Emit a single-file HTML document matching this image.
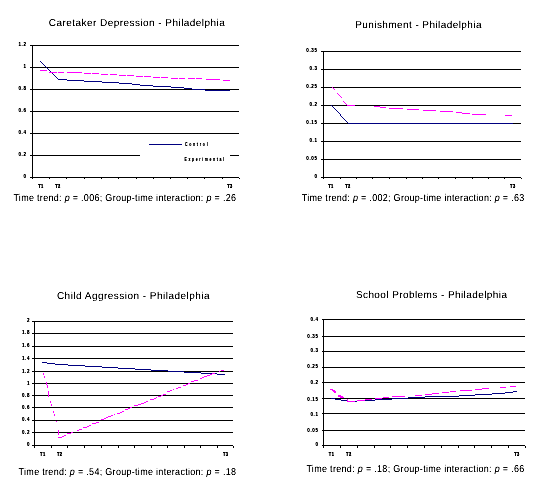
<!DOCTYPE html>
<html><head><meta charset="utf-8"><style>
html,body{margin:0;padding:0;background:#fff;width:546px;height:487px;overflow:hidden}
svg{display:block}
text{font-family:"Liberation Sans",sans-serif;fill:#000}
.tt{font-size:10px;text-rendering:geometricPrecision}
.cp{font-size:10px;text-rendering:geometricPrecision}
.yl{font-size:6px;font-weight:bold;text-anchor:end;stroke:#000;stroke-width:0;letter-spacing:0.8px}
.tl{font-size:5px;font-weight:bold;text-anchor:middle;stroke:#000;stroke-width:0.1;letter-spacing:0.6px}
.lg{font-size:5px;font-weight:bold}
</style></head><body>
<svg width="546" height="487" viewBox="0 0 546 487">
<defs><filter id="crisp" x="-5%" y="-20%" width="110%" height="140%"><feComponentTransfer><feFuncA type="linear" slope="2" intercept="-0.3"/></feComponentTransfer></filter><filter id="crisp3" x="-5%" y="-20%" width="110%" height="140%"><feComponentTransfer><feFuncA type="linear" slope="1.5" intercept="-0.15"/></feComponentTransfer></filter><filter id="crisp2" x="-5%" y="-20%" width="110%" height="140%"><feComponentTransfer><feFuncA type="linear" slope="1.5" intercept="0"/></feComponentTransfer></filter></defs>
<rect width="546" height="487" fill="#fff"/>
<g stroke="#000" stroke-width="1" shape-rendering="crispEdges"><line x1="30" y1="45.5" x2="239" y2="45.5"/><line x1="30" y1="67.5" x2="239" y2="67.5"/><line x1="30" y1="89.5" x2="239" y2="89.5"/><line x1="30" y1="111.5" x2="239" y2="111.5"/><line x1="30" y1="133.5" x2="239" y2="133.5"/><line x1="30" y1="155.5" x2="239" y2="155.5"/><line x1="30" y1="177.5" x2="239" y2="177.5"/><line x1="32.5" y1="45" x2="32.5" y2="178"/><line x1="32.5" y1="178" x2="32.5" y2="179"/><line x1="49.5" y1="178" x2="49.5" y2="179"/><line x1="66.5" y1="178" x2="66.5" y2="179"/><line x1="84.5" y1="178" x2="84.5" y2="179"/><line x1="101.5" y1="178" x2="101.5" y2="179"/><line x1="118.5" y1="178" x2="118.5" y2="179"/><line x1="136.5" y1="178" x2="136.5" y2="179"/><line x1="153.5" y1="178" x2="153.5" y2="179"/><line x1="170.5" y1="178" x2="170.5" y2="179"/><line x1="187.5" y1="178" x2="187.5" y2="179"/><line x1="204.5" y1="178" x2="204.5" y2="179"/><line x1="222.5" y1="178" x2="222.5" y2="179"/><line x1="239.5" y1="178" x2="239.5" y2="179"/></g>
<rect x="140" y="137" width="90" height="27" fill="#fff"/>
<line x1="149" y1="144.5" x2="182" y2="144.5" stroke="#000080" stroke-width="1"/>
<g filter="url(#crisp2)"><text transform="scale(0.7,1)" x="264.29" y="146" class="lg" textLength="32.29" lengthAdjust="spacing">Control</text>
<text transform="scale(0.7,1)" x="263.57" y="160.8" class="lg" textLength="56.43" lengthAdjust="spacing">Experimental</text></g>
<g filter="url(#crisp2)">
<text transform="scale(0.75,1)" x="35.33" y="45.6" class="yl">1.2</text>
<text transform="scale(0.75,1)" x="35.33" y="67.6" class="yl">1</text>
<text transform="scale(0.75,1)" x="35.33" y="89.6" class="yl">0.8</text>
<text transform="scale(0.75,1)" x="35.33" y="111.6" class="yl">0.6</text>
<text transform="scale(0.75,1)" x="35.33" y="133.6" class="yl">0.4</text>
<text transform="scale(0.75,1)" x="35.33" y="155.6" class="yl">0.2</text>
<text transform="scale(0.75,1)" x="35.33" y="177.6" class="yl">0</text>
</g>
<g filter="url(#crisp2)"><text transform="scale(0.8,1)" x="51.25" y="188" class="tl">T1</text></g>
<g filter="url(#crisp2)"><text transform="scale(0.8,1)" x="72.5" y="188" class="tl">T2</text></g>
<g filter="url(#crisp2)"><text transform="scale(0.8,1)" x="287.5" y="188" class="tl">T3</text></g>
<path d="M40 61h1v1h-1zM41 62h1v1h-1zM42 63h1v1h-1zM43 64h1v1h-1zM44 65h1v1h-1zM45 66h1v1h-1zM46 67h1v1h-1zM47 68h1v1h-1zM48 69h1v1h-1zM49 70h1v1h-1zM50 71h1v1h-1zM51 72h1v1h-1zM52 73h1v1h-1zM53 74h1v1h-1zM54 75h1v1h-1zM55 76h1v1h-1zM56 77h1v1h-1zM57 78h1v1h-1zM58 79h9v1H58zM67 80h17v1H67zM84 81h18v1H84zM102 82h17v1H102zM119 83h13v1H119zM132 84h8v1H132zM140 85h13v1H140zM153 86h18v1H153zM171 87h13v1H171zM184 88h8v1H184zM192 89h13v1H192zM205 90h25v1H205z" fill="#000080"/>
<path d="M40 70h7v1H40zM49 72h8v1H49zM58 72h6v1H58zM67 72h8v1H67zM75 72h7v1H75zM84 73h7v1H84zM92 73h7v1H92zM101 74h7v1H101zM110 74h7v1H110zM119 75h7v1H119zM127 75h7v1H127zM136 76h7v1H136zM144 76h7v1H144zM153 77h7v1H153zM161 77h7v1H161zM171 78h7v1H171zM179 78h6v1H179zM188 78h7v1H188zM196 78h6v1H196zM206 79h7v1H206zM213 79h7v1H213zM223 80h7v1H223z" fill="#ff00ff"/>
<g filter="url(#crisp3)"><text transform="scale(1.0,1)" x="48.8" y="26.1" class="tt" textLength="176" lengthAdjust="spacing">Caretaker Depression - Philadelphia</text></g>
<g filter="url(#crisp3)"><text transform="scale(0.9,1)" x="14.89" y="201" class="cp" textLength="247.33" lengthAdjust="spacing">Time trend: <tspan font-style="italic">p</tspan> = .006; Group-time interaction: <tspan font-style="italic">p</tspan> = .26</text></g>
<g stroke="#000" stroke-width="1" shape-rendering="crispEdges"><line x1="321" y1="51.5" x2="521" y2="51.5"/><line x1="321" y1="69.5" x2="521" y2="69.5"/><line x1="321" y1="87.5" x2="521" y2="87.5"/><line x1="321" y1="105.5" x2="521" y2="105.5"/><line x1="321" y1="123.5" x2="521" y2="123.5"/><line x1="321" y1="141.5" x2="521" y2="141.5"/><line x1="321" y1="159.5" x2="521" y2="159.5"/><line x1="321" y1="177.5" x2="521" y2="177.5"/><line x1="323.5" y1="51" x2="323.5" y2="178"/><line x1="323.5" y1="178" x2="323.5" y2="179"/><line x1="340.5" y1="178" x2="340.5" y2="179"/><line x1="356.5" y1="178" x2="356.5" y2="179"/><line x1="372.5" y1="178" x2="372.5" y2="179"/><line x1="389.5" y1="178" x2="389.5" y2="179"/><line x1="406.5" y1="178" x2="406.5" y2="179"/><line x1="422.5" y1="178" x2="422.5" y2="179"/><line x1="438.5" y1="178" x2="438.5" y2="179"/><line x1="455.5" y1="178" x2="455.5" y2="179"/><line x1="472.5" y1="178" x2="472.5" y2="179"/><line x1="488.5" y1="178" x2="488.5" y2="179"/><line x1="504.5" y1="178" x2="504.5" y2="179"/><line x1="521.5" y1="178" x2="521.5" y2="179"/></g>
<g filter="url(#crisp2)">
<text transform="scale(0.75,1)" x="423.33" y="51.6" class="yl">0.35</text>
<text transform="scale(0.75,1)" x="423.33" y="69.6" class="yl">0.3</text>
<text transform="scale(0.75,1)" x="423.33" y="87.6" class="yl">0.25</text>
<text transform="scale(0.75,1)" x="423.33" y="105.6" class="yl">0.2</text>
<text transform="scale(0.75,1)" x="423.33" y="123.6" class="yl">0.15</text>
<text transform="scale(0.75,1)" x="423.33" y="141.6" class="yl">0.1</text>
<text transform="scale(0.75,1)" x="423.33" y="159.6" class="yl">0.05</text>
<text transform="scale(0.75,1)" x="423.33" y="177.6" class="yl">0</text>
</g>
<g filter="url(#crisp2)"><text transform="scale(0.8,1)" x="413.75" y="188" class="tl">T1</text></g>
<g filter="url(#crisp2)"><text transform="scale(0.8,1)" x="435" y="188" class="tl">T2</text></g>
<g filter="url(#crisp2)"><text transform="scale(0.8,1)" x="641" y="188" class="tl">T3</text></g>
<path d="M331 105h1v1h-1zM332 106h1v1h-1zM333 107h1v1h-1zM334 108h1v1h-1zM335 109h1v1h-1zM336 110h1v1h-1zM337 111h1v1h-1zM338 112h1v1h-1zM339 113h1v1h-1zM340 114h1v1h-1zM340 115h1v1h-1zM341 116h1v1h-1zM342 117h1v1h-1zM343 118h1v1h-1zM344 119h1v1h-1zM345 120h1v1h-1zM346 121h1v1h-1zM347 122h1v1h-1zM348 123h1v1h-1zM348 123h165v1H348z" fill="#000080"/>
<path d="M332 87h1v1h-1zM333 88h1v1h-1zM334 89h1v1h-1zM337 93h1v1h-1zM338 94h1v1h-1zM339 95h1v1h-1zM340 96h1v1h-1zM341 97h1v1h-1zM343 101h1v1h-1zM344 102h1v1h-1zM345 103h1v1h-1zM346 104h1v1h-1zM347 105h1v1h-1zM347 105h8v1H347zM374 106h6v1H374zM380 107h6v1H380zM389 108h8v1H389zM397 108h6v1H397zM407 109h12v1H407zM423 110h7v1H423zM430 110h6v1H430zM440 111h13v1H440zM456 112h6v1H456zM462 113h8v1H462zM472 114h14v1H472zM505 115h7v1H505z" fill="#ff00ff"/>
<g filter="url(#crisp3)"><text transform="scale(1.0,1)" x="355.2" y="28" class="tt" textLength="126.3" lengthAdjust="spacing">Punishment - Philadelphia</text></g>
<g filter="url(#crisp3)"><text transform="scale(0.9,1)" x="335.22" y="201" class="cp" textLength="247.33" lengthAdjust="spacing">Time trend: <tspan font-style="italic">p</tspan> = .002; Group-time interaction: <tspan font-style="italic">p</tspan> = .63</text></g>
<g stroke="#000" stroke-width="1" shape-rendering="crispEdges"><line x1="32" y1="321.5" x2="233" y2="321.5"/><line x1="32" y1="333.5" x2="233" y2="333.5"/><line x1="32" y1="346.5" x2="233" y2="346.5"/><line x1="32" y1="358.5" x2="233" y2="358.5"/><line x1="32" y1="371.5" x2="233" y2="371.5"/><line x1="32" y1="383.5" x2="233" y2="383.5"/><line x1="32" y1="395.5" x2="233" y2="395.5"/><line x1="32" y1="407.5" x2="233" y2="407.5"/><line x1="32" y1="420.5" x2="233" y2="420.5"/><line x1="32" y1="432.5" x2="233" y2="432.5"/><line x1="32" y1="445.5" x2="233" y2="445.5"/><line x1="34.5" y1="321" x2="34.5" y2="446"/><line x1="34.5" y1="446" x2="34.5" y2="448"/><line x1="51.5" y1="446" x2="51.5" y2="448"/><line x1="67.5" y1="446" x2="67.5" y2="448"/><line x1="84.5" y1="446" x2="84.5" y2="448"/><line x1="101.5" y1="446" x2="101.5" y2="448"/><line x1="118.5" y1="446" x2="118.5" y2="448"/><line x1="134.5" y1="446" x2="134.5" y2="448"/><line x1="151.5" y1="446" x2="151.5" y2="448"/><line x1="167.5" y1="446" x2="167.5" y2="448"/><line x1="184.5" y1="446" x2="184.5" y2="448"/><line x1="200.5" y1="446" x2="200.5" y2="448"/><line x1="217.5" y1="446" x2="217.5" y2="448"/><line x1="233.5" y1="446" x2="233.5" y2="448"/></g>
<g filter="url(#crisp2)">
<text transform="scale(0.75,1)" x="40" y="321.6" class="yl">2</text>
<text transform="scale(0.75,1)" x="40" y="333.6" class="yl">1.8</text>
<text transform="scale(0.75,1)" x="40" y="346.6" class="yl">1.6</text>
<text transform="scale(0.75,1)" x="40" y="359.6" class="yl">1.4</text>
<text transform="scale(0.75,1)" x="40" y="372.6" class="yl">1.2</text>
<text transform="scale(0.75,1)" x="40" y="384.6" class="yl">1</text>
<text transform="scale(0.75,1)" x="40" y="396.6" class="yl">0.8</text>
<text transform="scale(0.75,1)" x="40" y="408.6" class="yl">0.6</text>
<text transform="scale(0.75,1)" x="40" y="420.6" class="yl">0.4</text>
<text transform="scale(0.75,1)" x="40" y="433.6" class="yl">0.2</text>
<text transform="scale(0.75,1)" x="40" y="445.6" class="yl">0</text>
</g>
<g filter="url(#crisp2)"><text transform="scale(0.8,1)" x="53.5" y="456" class="tl">T1</text></g>
<g filter="url(#crisp2)"><text transform="scale(0.8,1)" x="74.62" y="456" class="tl">T2</text></g>
<g filter="url(#crisp2)"><text transform="scale(0.8,1)" x="282.12" y="456" class="tl">T3</text></g>
<path d="M42 362h5v1H42zM47 363h8v1H47zM55 364h13v1H55zM68 365h17v1H68zM85 366h17v1H85zM102 367h16v1H102zM118 368h17v1H118zM135 369h16v1H135zM151 370h17v1H151zM168 371h16v1H168zM184 372h17v1H184zM201 373h16v1H201zM217 374h8v1H217z" fill="#000080"/>
<path d="M43 373h1v2h-1zM44 376h1v2h-1zM46 382h1v3h-1zM47 385h1v3h-1zM48 391h1v6h-1zM50 401h1v2h-1zM51 404h1v2h-1zM53 411h1v2h-1zM54 414h1v2h-1zM56 421h1v1h-1zM58 430h1v5h-1zM58 437h4v1H58zM62 436h2v1H62zM64 435h2v1H64zM67 433h4v1H67zM71 432h2v1H71zM77 430h2v1H77zM79 429h3v1H79zM83 427h4v1H83zM87 426h2v1H87zM89 425h2v1H89zM92 423h4v1H92zM96 422h3v1H96zM101 419h3v1H101zM104 418h2v1H104zM106 417h2v1H106zM108 416h3v1H108zM111 415h2v1H111zM114 414h1v1H114zM117 413h3v1H117zM120 412h2v1H120zM122 411h2v1H122zM125 409h3v1H125zM128 408h2v1H128zM130 407h2v1H130zM134 405h4v1H134zM138 404h3v1H138zM141 403h3v1H141zM144 402h2v1H144zM146 401h2v1H146zM150 399h4v1H150zM154 398h2v1H154zM156 397h1v1H156zM158 396h3v1H158zM161 395h2v1H161zM163 394h3v1H163zM167 391h3v1H167zM170 390h2v1H170zM173 389h1v1H173zM176 388h2v1H176zM178 387h3v1H178zM183 385h3v1H183zM186 384h2v1H186zM188 383h2v1H188zM191 381h3v1H191zM194 380h4v1H194zM200 378h2v1H200zM202 377h2v1H202zM204 376h3v1H204zM207 375h3v1H207zM210 374h2v1H210zM212 373h3v1H212zM219 371h1v1H219zM221 370h3v1H221z" fill="#ff00ff"/>
<g filter="url(#crisp3)"><text transform="scale(1.0,1)" x="56.9" y="299.1" class="tt" textLength="152.6" lengthAdjust="spacing">Child Aggression - Philadelphia</text></g>
<g filter="url(#crisp3)"><text transform="scale(0.9,1)" x="20.67" y="475.2" class="cp" textLength="241.56" lengthAdjust="spacing">Time trend: <tspan font-style="italic">p</tspan> = .54; Group-time interaction: <tspan font-style="italic">p</tspan> = .18</text></g>
<g stroke="#000" stroke-width="1" shape-rendering="crispEdges"><line x1="322" y1="319.5" x2="525" y2="319.5"/><line x1="322" y1="336.5" x2="525" y2="336.5"/><line x1="322" y1="351.5" x2="525" y2="351.5"/><line x1="322" y1="367.5" x2="525" y2="367.5"/><line x1="322" y1="382.5" x2="525" y2="382.5"/><line x1="322" y1="398.5" x2="525" y2="398.5"/><line x1="322" y1="413.5" x2="525" y2="413.5"/><line x1="322" y1="430.5" x2="525" y2="430.5"/><line x1="322" y1="445.5" x2="525" y2="445.5"/><line x1="323.5" y1="319" x2="323.5" y2="446"/><line x1="323.5" y1="446" x2="323.5" y2="448"/><line x1="340.5" y1="446" x2="340.5" y2="448"/><line x1="357.5" y1="446" x2="357.5" y2="448"/><line x1="374.5" y1="446" x2="374.5" y2="448"/><line x1="390.5" y1="446" x2="390.5" y2="448"/><line x1="407.5" y1="446" x2="407.5" y2="448"/><line x1="424.5" y1="446" x2="424.5" y2="448"/><line x1="441.5" y1="446" x2="441.5" y2="448"/><line x1="458.5" y1="446" x2="458.5" y2="448"/><line x1="474.5" y1="446" x2="474.5" y2="448"/><line x1="491.5" y1="446" x2="491.5" y2="448"/><line x1="508.5" y1="446" x2="508.5" y2="448"/><line x1="525.5" y1="446" x2="525.5" y2="448"/></g>
<g filter="url(#crisp2)">
<text transform="scale(0.75,1)" x="424.67" y="320.6" class="yl">0.4</text>
<text transform="scale(0.75,1)" x="424.67" y="337.6" class="yl">0.35</text>
<text transform="scale(0.75,1)" x="424.67" y="351.6" class="yl">0.3</text>
<text transform="scale(0.75,1)" x="424.67" y="367.6" class="yl">0.25</text>
<text transform="scale(0.75,1)" x="424.67" y="383.6" class="yl">0.2</text>
<text transform="scale(0.75,1)" x="424.67" y="400.6" class="yl">0.15</text>
<text transform="scale(0.75,1)" x="424.67" y="415.6" class="yl">0.1</text>
<text transform="scale(0.75,1)" x="424.67" y="431.6" class="yl">0.05</text>
<text transform="scale(0.75,1)" x="424.67" y="445.6" class="yl">0</text>
</g>
<g filter="url(#crisp2)"><text transform="scale(0.8,1)" x="414.5" y="456" class="tl">T1</text></g>
<g filter="url(#crisp2)"><text transform="scale(0.8,1)" x="436" y="456" class="tl">T2</text></g>
<g filter="url(#crisp2)"><text transform="scale(0.8,1)" x="646.25" y="456" class="tl">T3</text></g>
<path d="M331 398h4v1H331zM335 399h6v1H335zM341 400h6v1H341zM347 401h10v1H347zM357 400h18v1H357zM375 399h17v1H375zM392 398h16v1H392zM408 397h17v1H408zM425 396h34v1H425zM459 395h16v1H459zM475 394h17v1H475zM492 393h13v1H492zM505 392h8v1H505zM513 391h4v1H513z" fill="#000080"/>
<path d="M330 389h3v1H330zM332 390h3v1H332zM333 391h3v1H333zM334 392h2v1H334zM338 395h3v1H338zM338 396h5v1H338zM340 397h4v1H340zM347 399h1v3h-1zM348 401h7v1H348zM357 400h8v1H357zM365 399h7v1H365zM375 398h7v1H375zM383 397h6v1H383zM392 396h13v1H392zM415 395h7v1H415zM425 394h7v1H425zM432 393h7v1H432zM442 392h7v1H442zM450 391h6v1H450zM460 390h12v1H460zM475 389h7v1H475zM482 388h7v1H482zM500 387h6v1H500zM510 386h6v1H510z" fill="#ff00ff"/>
<g filter="url(#crisp3)"><text transform="scale(1.0,1)" x="355.9" y="297.8" class="tt" textLength="151.1" lengthAdjust="spacing">School Problems - Philadelphia</text></g>
<g filter="url(#crisp3)"><text transform="scale(0.9,1)" x="340.44" y="472" class="cp" textLength="242.11" lengthAdjust="spacing">Time trend: <tspan font-style="italic">p</tspan> = .18; Group-time interaction: <tspan font-style="italic">p</tspan> = .66</text></g>
</svg>
</body></html>
